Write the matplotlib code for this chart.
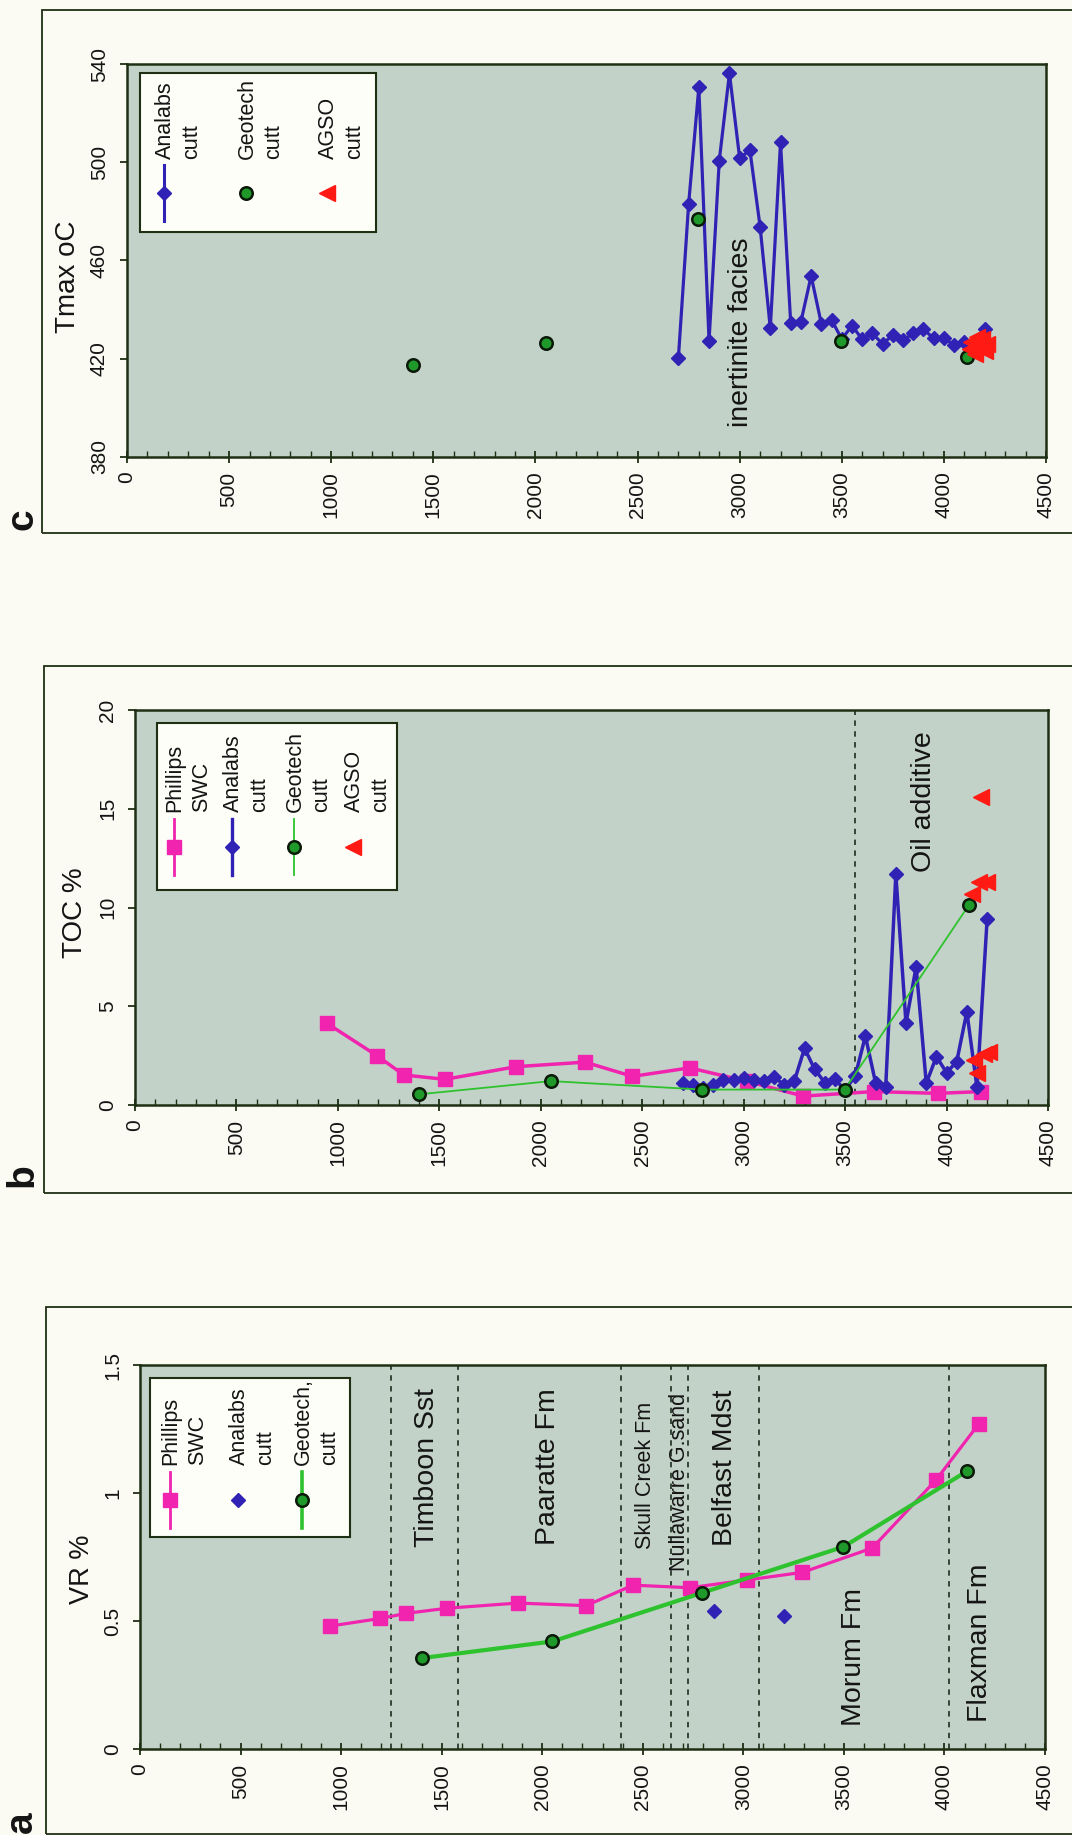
import matplotlib
matplotlib.use('Agg')
import matplotlib.pyplot as plt
from matplotlib.patches import Rectangle
from matplotlib.lines import Line2D
import matplotlib.ticker as mticker

plt.rcParams['font.family'] = ['Liberation Sans', 'DejaVu Sans']

# ---------------- data ----------------
depth_ticks = [0, 500, 1000, 1500, 2000, 2500, 3000, 3500, 4000, 4500]

swc_depth = [944, 1195, 1325, 1528, 1878, 2218, 2452, 2734, 3016, 3294, 3641, 3957, 4171]
swc_vr = [0.48, 0.51, 0.53, 0.55, 0.57, 0.56, 0.64, 0.63, 0.66, 0.69, 0.785, 1.05, 1.27]
swc_toc = [4.15, 2.48, 1.52, 1.30, 1.94, 2.17, 1.45, 1.88, 1.20, 0.45, 0.68, 0.59, 0.68]

geo_depth = [1400, 2050, 2795, 3498, 4112]
geo_vr = [0.355, 0.42, 0.61, 0.79, 1.085]
geo_toc = [0.54, 1.21, 0.78, 0.78, 10.15]
geo_tmax = [417.5, 426.5, 477.0, 427.2, 420.8]

ana_vr_depth = [2853, 3203]
ana_vr = [0.54, 0.52]

ana_depth = [2700, 2750, 2800, 2850, 2900, 2950, 3000, 3050, 3100, 3150, 3200,
             3250, 3300, 3350, 3400, 3450, 3500, 3550, 3600, 3650, 3700, 3750,
             3800, 3850, 3900, 3950, 4000, 4050, 4100, 4150, 4200]
ana_toc = [1.10, 1.01, 0.85, 1.01, 1.27, 1.27, 1.35, 1.27, 1.22, 1.43, 1.01,
           1.22, 2.87, 1.81, 1.13, 1.30, 0.75, 1.48, 3.49, 1.13, 0.89, 11.68,
           4.14, 7.00, 1.10, 2.45, 1.64, 2.19, 4.72, 0.89, 9.42]
ana_tmax = [420.4, 482.9, 530.5, 427.2, 500.6, 536.2, 501.6, 505.0, 473.8, 432.4, 508.1,
            434.4, 435.1, 453.7, 434.2, 435.8, 428.0, 433.5, 427.9, 430.3, 426.0, 429.7,
            427.6, 430.3, 432.0, 428.3, 428.3, 425.6, 427.0, 427.0, 432.0]

agso_depth = [4127, 4135, 4152, 4160, 4171, 4185, 4200, 4210]
agso_toc = [10.7, 2.3, 1.6, 11.3, 15.6, 2.6, 11.3, 2.7]
agso_tmax = [424, 427, 422, 429, 425, 428, 423, 426]

formation_tops = [1246, 1579, 2394, 2642, 2727, 3080, 4025]
formation_names = ["Timboon Sst", "Paaratte Fm", "Skull Creek Fm", "Nullawarre G.sand",
                   "Belfast Mdst", "Morum Fm", "Flaxman Fm"]
formation_depth = [1426, 2030, 2513, 2683, 2911, 3551, 4177]
formation_vr = [1.41, 1.41, 1.355, 1.39, 1.405, 0.09, 0.105]
oil_top = [3550]

vr_ticks = [0, 0.5, 1, 1.5]
vr_ticklabels = ['0', '0.5', '1', '1.5']
toc_ticks = [0, 5, 10, 15, 20]
tmax_ticks = [380, 420, 460, 500, 540]

# ---------------- styles ----------------
W, H = 1072, 1835
PINK = '#f024ae'
BLUE = '#2f22b4'
GREEN = '#1f9a2a'
GLINE = '#2ec22e'
RED = '#ff1a14'
SPINE = '#1e2f14'
TXT = '#141414'
BG = '#c2d2c8'
FS_TICK = 15
FS_LEG = 15.5
FS_LAB = 20
FS_BIG = 20.5
FS_SMALL = 15.5

fig = plt.figure(figsize=(W / 100, H / 100), dpi=100)
fig.patch.set_facecolor('#fbfbf4')


def make_ax(box):
    l, t, r, b = box
    ax = fig.add_axes([l / W, 1 - b / H, (r - l) / W, (b - t) / H])
    ax.set_facecolor(BG)
    for s in ax.spines.values():
        s.set_color(SPINE)
        s.set_linewidth(1.8)
    ax.set_xlim(0, 4500)
    ax.set_xticks(depth_ticks)
    ax.set_xticklabels([str(d) for d in depth_ticks])
    ax.xaxis.set_minor_locator(mticker.MultipleLocator(100))
    ax.tick_params(axis='x', which='major', direction='inout', length=9, width=1.3,
                   color=SPINE, labelsize=FS_TICK, labelcolor=TXT, pad=6, labelrotation=90)
    ax.tick_params(axis='x', which='minor', direction='in', length=4, width=1.0, color=SPINE)
    ax.tick_params(axis='y', which='major', direction='out', length=5, width=1.3,
                   color=SPINE, labelsize=FS_TICK, labelcolor=TXT, pad=8, labelrotation=90)
    return ax


def fix_ylabels(ax):
    for lb in ax.get_yticklabels():
        lb.set_rotation(90)
        lb.set_va('center')
        lb.set_ha('right')


def px(box, x, y):
    l, t, r, b = box
    return (x - l) / (r - l), (b - y) / (b - t)


def legend(ax, box, lbox, entries, text_y, mark_y, half=28):
    x0, y0 = px(box, lbox[0], lbox[3])
    x1, y1 = px(box, lbox[2], lbox[1])
    ax.add_patch(Rectangle((x0, y0), x1 - x0, y1 - y0, transform=ax.transAxes,
                           facecolor='#fefef9', edgecolor=SPINE, lw=1.5, zorder=6))
    for ex, lines, st in entries:
        fx, fy1 = px(box, ex, mark_y + half)
        _, fym = px(box, ex, mark_y)
        _, fy2 = px(box, ex, mark_y - half)
        ln = Line2D([fx, fx, fx], [fy1, fym, fy2], transform=ax.transAxes,
                    color=st['color'], lw=st.get('lw', 0), ls='-' if st.get('lw', 0) else 'none',
                    marker=st['marker'], markevery=[1], ms=st['ms'],
                    mfc=st['mfc'], mec=st.get('mec', st['mfc']), mew=st.get('mew', 1),
                    zorder=7)
        ax.add_line(ln)
        for i, t in enumerate(lines):
            tx, ty = px(box, ex + 1 + 27 * i, text_y)
            ax.text(tx, ty, t, rotation=90, ha='center', va='bottom', fontsize=FS_LEG,
                    color=TXT, transform=ax.transAxes, zorder=8, linespacing=1.0)


sty_swc = dict(color=PINK, marker='s', ms=10.5, mfc=PINK)
sty_ana = dict(color=BLUE, marker='D', ms=7.5, mfc=BLUE)
sty_geo = dict(color=GLINE, marker='o', ms=9, mfc=GREEN, mec='#0b1a08', mew=1.8)
sty_agso = dict(color=RED, marker='<', ms=11, mfc=RED)

# ---------------- panel c (Tmax) ----------------
box_c = (127, 64, 1046, 457)
axc = make_ax(box_c)
axc.set_ylim(380, 540)
axc.set_yticks(tmax_ticks)
axc.set_yticklabels([str(t) for t in tmax_ticks])
fix_ylabels(axc)
axc.plot(ana_depth, ana_tmax, color=BLUE, lw=2.3, marker='D', ms=7.5, mfc=BLUE, mec=BLUE, zorder=3)
axc.plot(geo_depth, geo_tmax, ls='none', marker='o', ms=9, mfc=GREEN, mec='#0b1a08', mew=1.8, zorder=4)
axc.plot(agso_depth, agso_tmax, ls='none', marker='<', ms=11, mfc=RED, mec=RED, zorder=5)
axc.text(3008, 392.2, 'inertinite facies', rotation=90, ha='center', va='bottom',
         fontsize=FS_BIG, color=TXT, zorder=2)
axc.text(*px(box_c, 68, 277), 'Tmax oC', rotation=90, ha='center', va='center',
         fontsize=FS_LAB, color=TXT, transform=axc.transAxes)
legend(axc, box_c, (140, 73, 376, 232),
       [(164, ['Analabs', 'cutt'], dict(sty_ana, lw=2.2)),
        (246, ['Geotech', 'cutt'], sty_geo),
        (327, ['AGSO', 'cutt'], sty_agso)],
       text_y=159, mark_y=193)

# ---------------- panel b (TOC) ----------------
box_b = (135, 710, 1048, 1105)
axb = make_ax(box_b)
axb.set_ylim(0, 20)
axb.set_yticks(toc_ticks)
axb.set_yticklabels([str(t) for t in toc_ticks])
fix_ylabels(axb)
for d in oil_top:
    axb.axvline(d, color='#2a3a2a', lw=1.3, ls=(0, (3, 3)), zorder=1)
axb.plot(swc_depth, swc_toc, color=PINK, lw=2.5, marker='s', ms=10.5, mfc=PINK, mec=PINK, zorder=2)
axb.plot(ana_depth, ana_toc, color=BLUE, lw=2.5, marker='D', ms=7.5, mfc=BLUE, mec=BLUE, zorder=3)
axb.plot(geo_depth, geo_toc, color=GLINE, lw=1.3, marker='o', ms=9, mfc=GREEN, mec='#0b1a08', mew=1.8, zorder=4)
axb.plot(agso_depth, agso_toc, ls='none', marker='<', ms=11, mfc=RED, mec=RED, zorder=5)
axb.text(3890, 18.9, 'Oil additive', rotation=90, ha='center', va='top',
         fontsize=FS_BIG, color=TXT, zorder=2)
axb.text(*px(box_b, 75, 913), 'TOC %', rotation=90, ha='center', va='center',
         fontsize=FS_LAB, color=TXT, transform=axb.transAxes)
legend(axb, box_b, (157, 723, 397, 890),
       [(174, ['Phillips', 'SWC'], dict(sty_swc, lw=2.0)),
        (232, ['Analabs', 'cutt'], dict(sty_ana, lw=2.4)),
        (294, ['Geotech', 'cutt'], dict(sty_geo, lw=1.3)),
        (353, ['AGSO', 'cutt'], sty_agso)],
       text_y=812, mark_y=847)

# ---------------- panel a (VR) ----------------
box_a = (140, 1365, 1045, 1749)
axa = make_ax(box_a)
axa.set_ylim(0, 1.5)
axa.set_yticks(vr_ticks)
axa.set_yticklabels(vr_ticklabels)
fix_ylabels(axa)
for d in formation_tops:
    axa.axvline(d, color='#2a3a2a', lw=1.3, ls=(0, (3, 3)), zorder=1)
for name, d, v in zip(formation_names, formation_depth, formation_vr):
    small = name in ("Skull Creek Fm", "Nullawarre G.sand")
    axa.text(d, v, name, rotation=90, ha='center', va='top' if v > 0.7 else 'bottom',
             fontsize=FS_SMALL if small else FS_BIG, color=TXT, zorder=2)
axa.plot(swc_depth, swc_vr, color=PINK, lw=2.3, marker='s', ms=10.5, mfc=PINK, mec=PINK, zorder=3)
axa.plot(ana_vr_depth, ana_vr, ls='none', marker='D', ms=7, mfc=BLUE, mec=BLUE, zorder=4)
axa.plot(geo_depth, geo_vr, color=GLINE, lw=3.0, marker='o', ms=9, mfc=GREEN, mec='#0b1a08', mew=1.8, zorder=4)
axa.text(*px(box_a, 82, 1569), 'VR %', rotation=90, ha='center', va='center',
         fontsize=FS_LAB - 0.5, color=TXT, transform=axa.transAxes)
legend(axa, box_a, (150, 1378, 350, 1537),
       [(170, ['Phillips', 'SWC'], dict(sty_swc, lw=2.0)),
        (238, ['Analabs', 'cutt'], sty_ana),
        (302, ['Geotech,', 'cutt'], dict(sty_geo, lw=2.6))],
       text_y=1465, mark_y=1500)

# ---------------- outer panel frames & letters ----------------
for (l, t, b), letter, ly in [((42, 10, 533), 'c', 519), ((44, 666, 1193), 'b', 1175),
                              ((46, 1307, 1834), 'a', 1822)]:
    fig.add_artist(Rectangle((l / W, 1 - b / H), (1100 - l) / W, (b - t) / H,
                             transform=fig.transFigure, fill=False, ec=SPINE, lw=1.3))
    fig.text(22 / W, 1 - ly / H, letter, rotation=90, ha='center', va='center',
             fontsize=28, fontweight='bold', color=TXT)

fig.savefig('out.png', dpi=100, facecolor=fig.get_facecolor())
